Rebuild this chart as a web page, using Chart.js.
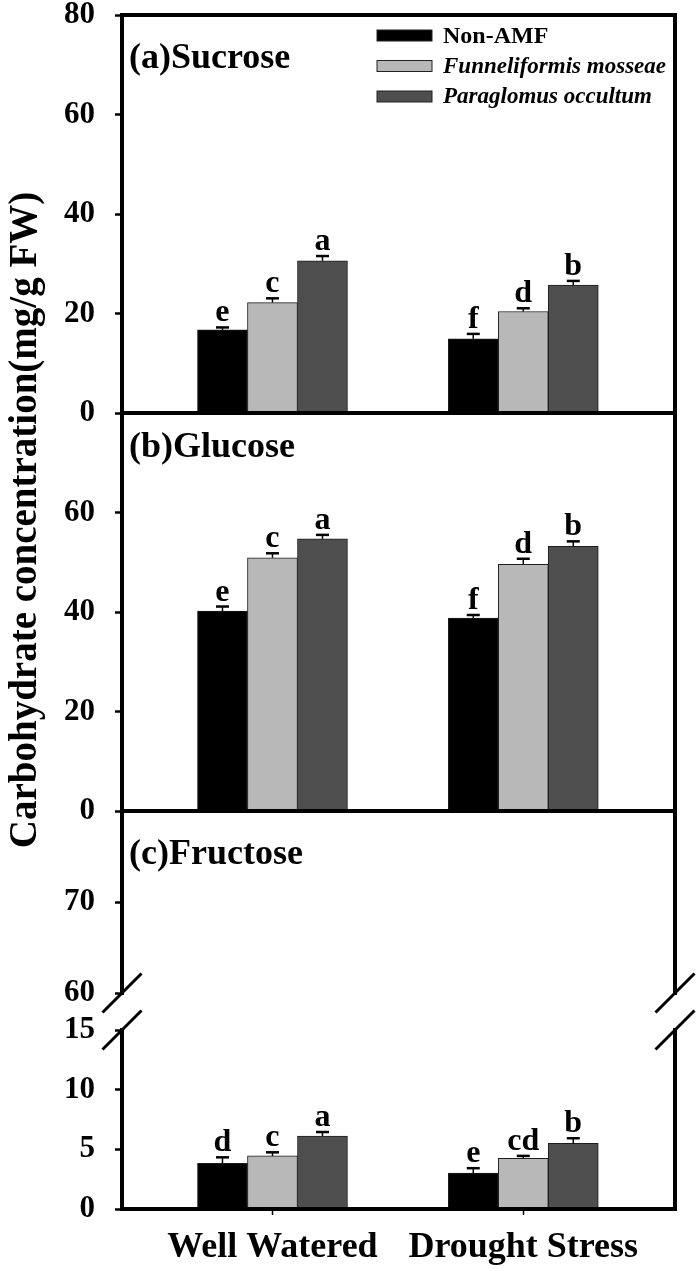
<!DOCTYPE html>
<html>
<head>
<meta charset="utf-8">
<title>Carbohydrate concentration</title>
<script src="https://cdn.jsdelivr.net/npm/chart.js@4.4.1/dist/chart.umd.min.js"></script>
<style>
    body { margin: 0; background: #fff; }
    #wrap { position: relative; width: 700px; height: 1271px; overflow: hidden; }
    #wrap canvas { position: absolute; left: 0; }
    #ytitle {
        position: absolute; left: 22px; top: 520px;
        width: 800px; margin-left: -400px; height: 44px; margin-top: -22px;
        line-height: 44px; text-align: center; white-space: nowrap;
        transform: rotate(-90deg);
        font: bold 39px 'Liberation Serif', 'Times New Roman', serif; color: #000;
    }
</style>
</head>
<body>
<div id="wrap">
    <canvas id="cA" width="700" height="478" style="top:-25px"></canvas>
    <canvas id="cB" width="700" height="478" style="top:373px"></canvas>
    <canvas id="cCu" width="700" height="262" style="top:771px"></canvas>
    <canvas id="cCl" width="700" height="281" style="top:990px"></canvas>
    <div id="ytitle">Carbohydrate concentration(mg/g FW)</div>
</div>
<script>
// data
const categories = ['Well Watered', 'Drought Stress'];
const seriesNames = ['Non-AMF', 'Funneliformis mosseae', 'Paraglomus occultum'];

const sucroseNonAMF = [16.7, 14.9];
const sucroseFm = [22.2, 20.4];
const sucrosePo = [30.6, 25.7];
const sucroseErr = [[0.5, 1.0], [0.85, 0.65], [0.95, 0.85]];
const sucroseLetters = [['e', 'f'], ['c', 'd'], ['a', 'b']];

const glucoseNonAMF = [40.2, 38.8];
const glucoseFm = [50.9, 49.6];
const glucosePo = [54.7, 53.2];
const glucoseErr = [[0.9, 0.6], [0.9, 1.1], [0.8, 1.0]];
const glucoseLetters = [['e', 'f'], ['c', 'd'], ['a', 'b']];

const fructoseNonAMF = [3.83, 3.0];
const fructoseFm = [4.45, 4.25];
const fructosePo = [6.12, 5.5];
const fructoseErr = [[0.5, 0.42], [0.3, 0.2], [0.33, 0.43]];
const fructoseLetters = [['d', 'e'], ['c', 'cd'], ['a', 'b']];

const sucroseTicks = [0, 20, 40, 60, 80];
const glucoseTicks = [0, 20, 40, 60];
const fructoseUpperTicks = [60, 70];
const fructoseLowerTicks = [0, 5, 10, 15];

const fam = "'Liberation Serif', 'Times New Roman', serif";
const barColors = ['#000000', '#b8b8b8', '#4e4e4e'];
const legendFonts = ['bold 24px ' + fam, 'italic bold 23px ' + fam, 'italic bold 23px ' + fam];

Chart.defaults.font.family = fam;
Chart.defaults.font.weight = 'bold';
Chart.defaults.color = '#000';

const errPlugin = {
    id: 'errLetters',
    afterDatasetsDraw(chart) {
        const ctx = chart.ctx;
        const ys = chart.scales.y;
        chart.data.datasets.forEach((ds, i) => {
            const meta = chart.getDatasetMeta(i);
            meta.data.forEach((bar, j) => {
                const yTop = ys.getPixelForValue(ds.data[j].y + ds.err[j]);
                ctx.save();
                ctx.strokeStyle = '#000';
                ctx.lineWidth = 1.5;
                ctx.beginPath();
                ctx.moveTo(bar.x, bar.y);
                ctx.lineTo(bar.x, yTop);
                ctx.stroke();
                ctx.lineWidth = 2.5;
                ctx.beginPath();
                ctx.moveTo(bar.x - 6.5, yTop);
                ctx.lineTo(bar.x + 6.5, yTop);
                ctx.stroke();
                ctx.font = 'bold 32px ' + fam;
                ctx.fillStyle = '#000';
                ctx.textAlign = 'center';
                ctx.textBaseline = 'alphabetic';
                ctx.fillText(ds.letters[j], bar.x, yTop - 6);
                ctx.restore();
            });
        });
    }
};

const framePlugin = {
    id: 'frame',
    afterDraw(chart, args, opts) {
        const ctx = chart.ctx;
        const a = chart.chartArea;
        ctx.save();
        ctx.strokeStyle = '#000';
        ctx.lineWidth = 4;
        ctx.lineCap = 'square';
        ctx.beginPath();
        if (opts.top) { ctx.moveTo(a.left, a.top); ctx.lineTo(a.right, a.top); }
        if (opts.bottom) { ctx.moveTo(a.left, a.bottom); ctx.lineTo(a.right, a.bottom); }
        ctx.moveTo(a.left, a.top); ctx.lineTo(a.left, a.bottom);
        ctx.moveTo(a.right, a.top); ctx.lineTo(a.right, a.bottom);
        ctx.stroke();
        if (opts.breakAt) {
            const y = opts.breakAt === 'bottom' ? a.bottom : a.top;
            ctx.lineWidth = 3;
            ctx.lineCap = 'butt';
            ctx.beginPath();
            [a.left, a.right].forEach(x => {
                ctx.moveTo(x - 19.5, y + 19.5);
                ctx.lineTo(x + 19.5, y - 19.5);
            });
            ctx.stroke();
        }
        ctx.restore();
    }
};

const titlePlugin = {
    id: 'panelTitle',
    afterDraw(chart, args, opts) {
        if (!opts.text) return;
        const ctx = chart.ctx;
        const a = chart.chartArea;
        ctx.save();
        ctx.font = 'bold 36px ' + fam;
        ctx.fillStyle = '#000';
        ctx.textAlign = 'left';
        ctx.textBaseline = 'middle';
        ctx.fillText(opts.text, a.left + 7, a.top + opts.dy);
        ctx.restore();
    }
};

const legendPlugin = {
    id: 'sugarLegend',
    afterDraw(chart, args, opts) {
        if (!opts.show) return;
        const ctx = chart.ctx;
        const a = chart.chartArea;
        ctx.save();
        seriesNames.forEach((name, i) => {
            const y = a.top + 20.5 + i * 30.5;
            const x = a.left + 255;
            ctx.fillStyle = barColors[i];
            ctx.fillRect(x, y - 5.5, 55, 11);
            ctx.strokeStyle = '#222';
            ctx.lineWidth = 1;
            ctx.strokeRect(x, y - 5.5, 55, 11);
            ctx.font = legendFonts[i];
            ctx.fillStyle = '#000';
            ctx.textAlign = 'left';
            ctx.textBaseline = 'middle';
            ctx.fillText(name, x + 66, y + 1);
        });
        ctx.restore();
    }
};

function makePanel(id, opt) {
    const datasets = opt.series.map((vals, i) => ({
        label: seriesNames[i],
        data: vals.map((v, j) => ({ x: j, y: v })),
        backgroundColor: barColors[i],
        borderColor: '#1e1e1e',
        borderWidth: 1,
        barThickness: 50,
        err: opt.err[i],
        letters: opt.letters[i]
    }));

    return new Chart(document.getElementById(id), {
        type: 'bar',
        data: { datasets: datasets },
        options: {
            responsive: false,
            animation: false,
            events: [],
            layout: { padding: { top: 40, bottom: opt.showX ? 2 : 40, left: 0, right: 25 } },
            plugins: {
                legend: { display: false },
                tooltip: { enabled: false },
                frame: opt.frame,
                panelTitle: opt.title || {},
                sugarLegend: { show: !!opt.legend }
            },
            scales: {
                x: {
                    type: 'linear',
                    min: -0.6,
                    max: 1.605,
                    offset: false,
                    display: !!opt.showX,
                    afterBuildTicks: s => { s.ticks = categories.map((c, i) => ({ value: i })); },
                    afterFit: s => { if (s.options.display) s.height = 60; },
                    ticks: {
                        callback: v => categories[v],
                        font: { size: 36 },
                        padding: 11,
                        autoSkip: false,
                        maxRotation: 0
                    },
                    grid: { offset: false, drawOnChartArea: false, tickLength: 6, tickWidth: 1.5, tickColor: '#000' },
                    border: { display: false }
                },
                y: {
                    min: opt.min,
                    max: opt.max,
                    afterBuildTicks: s => { s.ticks = opt.ticks.map(v => ({ value: v })); },
                    afterFit: s => { s.width = 122; },
                    ticks: { font: { size: 31 }, padding: 20, callback: v => String(v) },
                    grid: { drawOnChartArea: false, tickLength: 7, tickWidth: 2.5, tickColor: '#000' },
                    border: { display: false }
                }
            }
        },
        plugins: [errPlugin, framePlugin, titlePlugin, legendPlugin]
    });
}

makePanel('cA', {
    series: [sucroseNonAMF, sucroseFm, sucrosePo], err: sucroseErr, letters: sucroseLetters,
    min: 0, max: 80, ticks: sucroseTicks,
    frame: { top: true, bottom: true },
    title: { text: '(a)Sucrose', dy: 44 },
    legend: true
});

makePanel('cB', {
    series: [glucoseNonAMF, glucoseFm, glucosePo], err: glucoseErr, letters: glucoseLetters,
    min: 0, max: 80, ticks: glucoseTicks,
    frame: { top: true, bottom: true },
    title: { text: '(b)Glucose', dy: 35 }
});

makePanel('cCu', {
    series: [], err: [], letters: [],
    min: 60, max: 80, ticks: fructoseUpperTicks,
    frame: { top: true, bottom: false, breakAt: 'bottom' },
    title: { text: '(c)Fructose', dy: 44 }
});

makePanel('cCl', {
    series: [fructoseNonAMF, fructoseFm, fructosePo], err: fructoseErr, letters: fructoseLetters,
    min: 0, max: 15, ticks: fructoseLowerTicks,
    frame: { top: false, bottom: true, breakAt: 'top' },
    showX: true
});
</script>
</body>
</html>
